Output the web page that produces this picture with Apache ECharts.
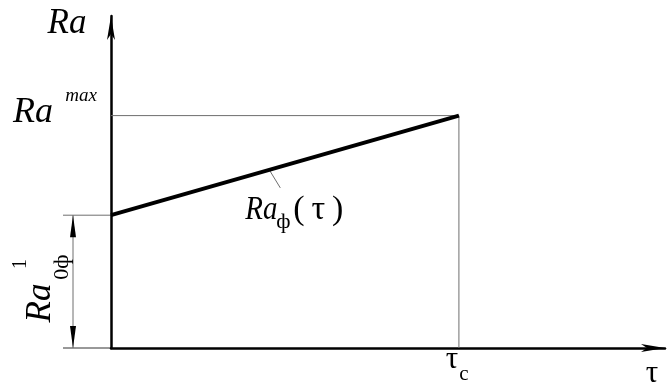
<!DOCTYPE html>
<html>
<head>
<meta charset="utf-8">
<script src="https://cdn.jsdelivr.net/npm/echarts@6/dist/echarts.min.js"></script>
<style>
  html, body { margin: 0; padding: 0; background: #fff; }
  #chart { width: 671px; height: 389px; }
</style>
</head>
<body>
<div id="chart"></div>
<script>
// time points (start, tau_c) and roughness values (Ra0, Ra max)
const tau = [0, 6.28]
const ra = [4.0, 7.0]
const xRange = [0, 10]
const yRange = [0, 10]

const serif = "'Liberation Serif', 'Times New Roman', serif"
const thin = '#6e6e6e'

const chart = echarts.init(document.getElementById('chart'))

chart.setOption({
  animation: false,
  backgroundColor: '#fff',
  grid: { left: 111, right: 6, top: 16, bottom: 41 },
  xAxis: {
    type: 'value', min: xRange[0], max: xRange[1],
    axisLine: { lineStyle: { color: '#000', width: 2.5 }, symbol: ['none', 'arrow'], symbolSize: [6, 24] },
    axisTick: { show: false }, axisLabel: { show: false }, splitLine: { show: false }
  },
  yAxis: {
    type: 'value', min: yRange[0], max: yRange[1],
    axisLine: { show: true, lineStyle: { color: '#000', width: 2.5 }, symbol: ['none', 'arrow'], symbolSize: [6, 24] },
    axisTick: { show: false }, axisLabel: { show: false }, splitLine: { show: false }
  },
  series: [
    {
      // thin guides to Ra max and tau_c
      type: 'line', symbol: 'none', silent: true,
      lineStyle: { color: thin, width: 1 },
      data: [[tau[0], ra[1]], [tau[1], ra[1]], [tau[1], yRange[0]]]
    },
    {
      type: 'line', symbol: 'none',
      lineStyle: { color: '#000', width: 4 },
      data: tau.map((t, i) => [t, ra[i]])
    }
  ]
})

// annotations placed from the data positions
const p0 = chart.convertToPixel({ gridIndex: 0 }, [tau[0], yRange[0]])
const pR0 = chart.convertToPixel({ gridIndex: 0 }, [tau[0], ra[0]])
const pMax = chart.convertToPixel({ gridIndex: 0 }, [tau[0], ra[1]])
const pC = chart.convertToPixel({ gridIndex: 0 }, [tau[1], yRange[0]])
const k = 0.455
const pLead = chart.convertToPixel({ gridIndex: 0 }, [tau[0] + (tau[1] - tau[0]) * k, ra[0] + (ra[1] - ra[0]) * k])

const dimX = p0[0] - 38
const txt = (x, y, text, size, italic, extra) => Object.assign({
  type: 'text', x, y,
  style: { text, font: (italic ? 'italic ' : '') + size + 'px ' + serif, fill: '#000', align: 'center', verticalAlign: 'middle' }
}, extra || {})

chart.setOption({
  graphic: [
    // extension lines
    { type: 'line', shape: { x1: p0[0] - 48, y1: pR0[1], x2: p0[0], y2: pR0[1] }, style: { stroke: thin, lineWidth: 1 } },
    { type: 'line', shape: { x1: p0[0] - 48, y1: p0[1], x2: p0[0], y2: p0[1] }, style: { stroke: '#333', lineWidth: 1 } },
    // dimension line with arrows
    { type: 'line', shape: { x1: dimX, y1: pR0[1], x2: dimX, y2: p0[1] }, style: { stroke: thin, lineWidth: 1 } },
    { type: 'polygon', shape: { points: [[dimX, pR0[1]], [dimX - 3, pR0[1] + 22], [dimX + 3, pR0[1] + 22]] }, style: { fill: '#000' } },
    { type: 'polygon', shape: { points: [[dimX, p0[1]], [dimX - 3, p0[1] - 22], [dimX + 3, p0[1] - 22]] }, style: { fill: '#000' } },
    // leader to the curve label
    { type: 'line', shape: { x1: pLead[0], y1: pLead[1], x2: pLead[0] + 11, y2: pLead[1] + 18 }, style: { stroke: thin, lineWidth: 1 } },

    // axis titles
    txt(67, 24, 'Ra', 35, true),
    txt(652, 374, 'τ', 31, false),
    // Ra max
    txt(33, pMax[1] - 3, 'Ra', 36, true),
    txt(81, pMax[1] - 20, 'max', 19, true),
    // tau_c
    txt(pC[0] - 7, 360, 'τ', 31, false),
    txt(pC[0] + 5, 374, 'c', 21, false),
    // curve label Ra_phi(tau)
    txt(pLead[0] - 8, pLead[1] + 40, 'Ra', 34, true, { scaleX: 0.85 }),
    txt(pLead[0] + 14, pLead[1] + 52, 'ф', 22, false),
    txt(pLead[0] + 49, pLead[1] + 40, '(\u2009τ\u2009)', 34, false),
    // rotated Ra^1_0phi
    txt(41, 303, 'Ra', 35, true, { rotation: Math.PI / 2 }),
    txt(62, 267, '0ф', 22, false, { rotation: Math.PI / 2 }),
    txt(21, 264, '1', 20, false, { rotation: Math.PI / 2 })
  ]
})
</script>
</body>
</html>
